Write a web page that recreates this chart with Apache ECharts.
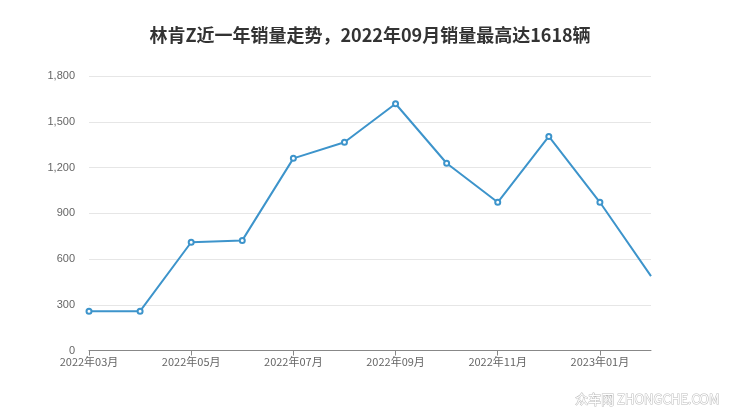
<!DOCTYPE html>
<html><head><meta charset="utf-8">
<script src="https://cdn.jsdelivr.net/npm/echarts@6/dist/echarts.min.js"></script>
<style>html,body{margin:0;padding:0;background:#fff}#c{width:740px;height:417px}</style>
</head><body><div id="c"></div>
<script>
var categories = ['2022年03月','2022年04月','2022年05月','2022年06月','2022年07月','2022年08月','2022年09月','2022年10月','2022年11月','2022年12月','2023年01月','2023年02月'];
var sales = [258, 258, 710, 722, 1260, 1366, 1618, 1228, 972, 1404, 972, 488];
var yTicks = [0, 300, 600, 900, 1200, 1500, 1800];
var titleText = '林肯Z近一年销量走势，2022年09月销量最高达1618辆';
var watermark = '众车网 ZHONGCHE.COM';

var chart = echarts.init(document.getElementById('c'));
chart.setOption({
  animation: false,
  title: {text: titleText, left: 'center', top: 21,
    textStyle: {fontSize: 18, fontWeight: 'bold', color: '#333', fontFamily: 'Noto Sans CJK SC'}},
  grid: {left: 89, right: 89, top: 76, bottom: 66.5},
  xAxis: {type: 'category', data: categories, boundaryGap: false,
    axisLine: {lineStyle: {color: '#888'}},
    axisTick: {interval: 1, lineStyle: {color: '#888'}},
    axisLabel: {interval: 1, color: '#666', fontSize: 11, margin: 6, fontFamily: 'Noto Sans CJK SC'}},
  yAxis: {type: 'value', min: yTicks[0], max: yTicks[yTicks.length-1], interval: 300,
    axisLine: {show: false}, axisTick: {show: false},
    axisLabel: {color: '#666', fontSize: 11, margin: 14,
      formatter: function(v){return v.toLocaleString('en-US');}},
    splitLine: {lineStyle: {color: '#e6e6e6'}}},
  series: [{type: 'line', data: sales.map(function(v,i){return i===sales.length-1?{value:v,symbol:'none'}:v;}),
    symbol: 'emptyCircle', symbolSize: 5,
    lineStyle: {color: '#3d94cb', width: 2},
    itemStyle: {color: '#3d94cb', borderWidth: 1.5}}],
  graphic: [{type: 'text', right: 20, bottom: 11,
    style: {text: watermark, fontSize: 13, fill: '#fff', stroke: '#bbb', lineWidth: 1, fontFamily: 'Noto Sans CJK SC'}}]
});
</script></body></html>
